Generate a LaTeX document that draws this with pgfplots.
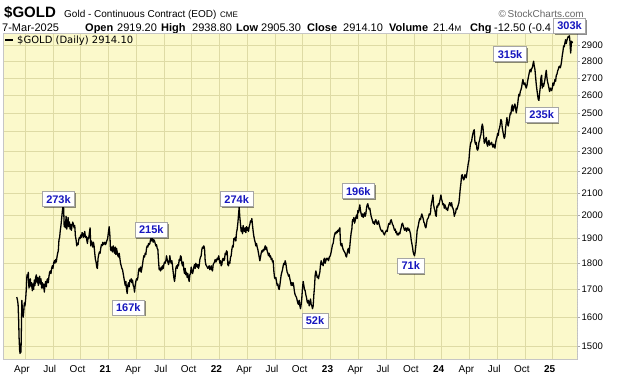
\documentclass[border=0pt]{standalone}
\usepackage{fontspec}
\setmainfont{Liberation Sans}
\newfontfamily\dejavu{DejaVu Sans}
\usepackage{pgfplots}
\pgfplotsset{compat=1.18}
\usetikzlibrary{shadows}
\definecolor{bgc}{RGB}{251,249,203}
\definecolor{gridc}{RGB}{222,219,165}
\definecolor{annblue}{RGB}{22,22,190}
\tikzset{ann/.style={draw=gray!70, fill=white, line width=0.6pt, text=annblue,
  font=\bfseries\fontsize{11}{12}\selectfont, inner xsep=4pt, inner ysep=3.5pt,
  drop shadow={shadow xshift=1.3pt, shadow yshift=-1.3pt, opacity=0.45, fill=black}},
  hdr/.style={anchor=base west, inner sep=0pt, font=\fontsize{11}{12}\selectfont},
  hdb/.style={anchor=base west, inner sep=0pt, font=\bfseries\fontsize{11}{12}\selectfont}}
\begin{document}
\begin{tikzpicture}
\useasboundingbox (0pt,0pt) rectangle (620pt,376pt);
% header line 1
\node[anchor=base west, inner sep=0pt, font=\bfseries\fontsize{15}{15}\selectfont] at (4pt,358.5pt) {\$GOLD};
\node[anchor=base west, inner sep=0pt, font=\fontsize{10}{11}\selectfont] at (64pt,358.5pt) {Gold - Continuous Contract (EOD)};
\node[anchor=base west, inner sep=0pt, font=\fontsize{8}{9}\selectfont] at (220pt,358.5pt) {CME};
\node[anchor=base east, inner sep=0pt, text=gray!80!black, font=\fontsize{10}{11}\selectfont] at (584pt,358.5pt) {\textcopyright\,StockCharts.com};
% header line 2
\node[hdr] at (2pt,344.5pt) {7-Mar-2025};
\node[hdb] at (85pt,344.5pt) {Open};
\node[hdr] at (117pt,344.5pt) {2919.20};
\node[hdb] at (161pt,344.5pt) {High};
\node[hdr] at (192pt,344.5pt) {2938.80};
\node[hdb] at (236pt,344.5pt) {Low};
\node[hdr] at (261pt,344.5pt) {2905.30};
\node[hdb] at (307pt,344.5pt) {Close};
\node[hdr] at (343pt,344.5pt) {2914.10};
\node[hdb] at (389pt,344.5pt) {Volume};
\node[hdr] at (433pt,344.5pt) {21.4{\fontsize{8}{9}\selectfont M}};
\node[hdb] at (470pt,344.5pt) {Chg};
\node[hdr] at (494pt,344.5pt) {-12.50 (-0.4};
\begin{axis}[
 at={(3pt,16.5pt)}, anchor=south west, scale only axis,
 width=574pt, height=326pt,
 xmin=2020.0522, xmax=2025.2187,
 ymode=log, ymin=1458.6, ymax=2975,
 axis background/.style={fill=bgc},
 axis line style={draw=gray!45, line width=0.4pt},
 grid=major, major grid style={draw=gridc, line width=0.5pt},
 xtick={2020.25,2020.5,2020.75,2021,2021.25,2021.5,2021.75,2022,2022.25,2022.5,2022.75,2023,2023.25,2023.5,2023.75,2024,2024.25,2024.5,2024.75,2025},
 xticklabels={Apr,Jul,Oct,\textbf{21},Apr,Jul,Oct,\textbf{22},Apr,Jul,Oct,\textbf{23},Apr,Jul,Oct,\textbf{24},Apr,Jul,Oct,\textbf{25}},
 ytick={1500,1600,1700,1800,1900,2000,2100,2200,2300,2400,2500,2600,2700,2800,2900},
 yticklabels={1500,1600,1700,1800,1900,2000,2100,2200,2300,2400,2500,2600,2700,2800,2900},
 ytick pos=right, yticklabel pos=right, xtick pos=bottom,
 xtick style={draw=none},
 ytick style={draw=gray!70, line width=0.4pt},
 major tick length=3pt, tick align=outside,
 yminorticks=false, xminorticks=false,
 xticklabel style={font=\fontsize{10}{11}\selectfont, xshift=-3pt, inner sep=1pt, yshift=-2pt},
 yticklabel style={font=\fontsize{9.5}{10}\selectfont, inner sep=1.5pt},
]
\addplot[black, line width=1.3pt, line join=round] coordinates {
(2020.176,1672)(2020.182,1662)(2020.188,1645)(2020.193,1590)(2020.197,1530)(2020.202,1488)(2020.206,1478)(2020.210,1485)(2020.214,1482)(2020.218,1565)(2020.222,1660)(2020.226,1630)(2020.230,1625)(2020.234,1600)(2020.239,1620)(2020.244,1650)(2020.250,1640)(2020.256,1665)(2020.262,1700)(2020.268,1755)(2020.274,1745)(2020.280,1765)(2020.286,1705)(2020.292,1720)(2020.298,1740)(2020.304,1710)(2020.310,1725)(2020.316,1695)(2020.322,1720)(2020.328,1700)(2020.334,1735)(2020.340,1715)(2020.346,1745)(2020.352,1755)(2020.358,1725)(2020.364,1745)(2020.370,1715)(2020.376,1735)(2020.382,1750)(2020.388,1720)(2020.394,1740)(2020.400,1705)(2020.406,1725)(2020.412,1705)(2020.418,1720)(2020.424,1690)(2020.430,1715)(2020.436,1730)(2020.442,1710)(2020.448,1735)(2020.454,1740)(2020.460,1725)(2020.466,1750)(2020.472,1765)(2020.478,1770)(2020.484,1760)(2020.490,1780)(2020.496,1790)(2020.502,1780)(2020.508,1800)(2020.514,1810)(2020.520,1800)(2020.526,1815)(2020.532,1805)(2020.538,1825)(2020.544,1840)(2020.550,1850)(2020.556,1895)(2020.562,1905)(2020.568,1935)(2020.574,1955)(2020.580,1985)(2020.586,2015)(2020.592,2040)(2020.598,2030)(2020.603,1950)(2020.608,1970)(2020.614,1945)(2020.620,1995)(2020.626,1940)(2020.632,1960)(2020.638,1990)(2020.644,1950)(2020.650,1970)(2020.656,1940)(2020.662,1960)(2020.668,1935)(2020.674,1955)(2020.680,1970)(2020.686,1960)(2020.692,1945)(2020.698,1955)(2020.704,1910)(2020.710,1895)(2020.716,1870)(2020.722,1880)(2020.728,1875)(2020.734,1895)(2020.740,1905)(2020.746,1900)(2020.752,1915)(2020.758,1905)(2020.764,1925)(2020.770,1920)(2020.776,1905)(2020.782,1915)(2020.788,1930)(2020.794,1905)(2020.800,1910)(2020.806,1895)(2020.812,1880)(2020.818,1905)(2020.824,1900)(2020.830,1925)(2020.836,1945)(2020.842,1870)(2020.848,1890)(2020.854,1880)(2020.860,1865)(2020.866,1885)(2020.872,1870)(2020.878,1840)(2020.884,1815)(2020.890,1805)(2020.896,1785)(2020.902,1780)(2020.908,1820)(2020.914,1835)(2020.920,1845)(2020.926,1840)(2020.932,1860)(2020.938,1875)(2020.944,1870)(2020.950,1885)(2020.956,1875)(2020.962,1880)(2020.968,1885)(2020.974,1875)(2020.980,1880)(2020.986,1890)(2020.994,1900)
(2021.002,1930)(2021.008,1950)(2021.014,1915)(2021.020,1855)(2021.026,1850)(2021.032,1865)(2021.038,1845)(2021.044,1870)(2021.050,1855)(2021.056,1840)(2021.062,1865)(2021.068,1835)(2021.074,1860)(2021.080,1845)(2021.086,1830)(2021.092,1825)(2021.098,1840)(2021.104,1820)(2021.110,1800)(2021.116,1790)(2021.122,1780)(2021.128,1775)(2021.134,1760)(2021.140,1745)(2021.146,1730)(2021.152,1715)(2021.158,1730)(2021.164,1700)(2021.170,1685)(2021.176,1715)(2021.182,1725)(2021.188,1710)(2021.194,1735)(2021.200,1730)(2021.206,1740)(2021.212,1725)(2021.218,1735)(2021.224,1715)(2021.230,1710)(2021.236,1690)(2021.242,1715)(2021.248,1730)(2021.254,1740)(2021.260,1735)(2021.266,1745)(2021.272,1770)(2021.278,1780)(2021.284,1770)(2021.290,1785)(2021.296,1765)(2021.302,1780)(2021.308,1795)(2021.314,1815)(2021.320,1830)(2021.326,1825)(2021.332,1840)(2021.338,1835)(2021.344,1860)(2021.350,1870)(2021.356,1865)(2021.362,1880)(2021.368,1875)(2021.374,1880)(2021.380,1895)(2021.386,1905)(2021.392,1890)(2021.398,1900)(2021.404,1885)(2021.410,1895)(2021.416,1890)(2021.422,1880)(2021.428,1870)(2021.434,1875)(2021.440,1860)(2021.446,1855)(2021.452,1810)(2021.458,1775)(2021.464,1780)(2021.470,1770)(2021.476,1785)(2021.482,1775)(2021.488,1790)(2021.494,1780)(2021.500,1795)(2021.506,1805)(2021.512,1800)(2021.518,1810)(2021.524,1830)(2021.530,1815)(2021.536,1805)(2021.542,1795)(2021.548,1805)(2021.554,1830)(2021.560,1810)(2021.566,1800)(2021.572,1810)(2021.578,1790)(2021.584,1765)(2021.590,1745)(2021.596,1730)(2021.602,1750)(2021.608,1780)(2021.614,1790)(2021.620,1780)(2021.626,1795)(2021.632,1790)(2021.638,1815)(2021.644,1810)(2021.650,1830)(2021.656,1825)(2021.662,1800)(2021.668,1790)(2021.674,1805)(2021.680,1775)(2021.686,1760)(2021.692,1780)(2021.698,1755)(2021.704,1765)(2021.710,1745)(2021.716,1760)(2021.722,1740)(2021.728,1730)(2021.734,1755)(2021.740,1760)(2021.746,1785)(2021.752,1770)(2021.758,1760)(2021.764,1770)(2021.770,1785)(2021.776,1795)(2021.782,1780)(2021.788,1800)(2021.794,1790)(2021.800,1785)(2021.806,1795)(2021.812,1780)(2021.818,1790)(2021.824,1815)(2021.830,1825)(2021.836,1830)(2021.842,1855)(2021.848,1865)(2021.854,1860)(2021.860,1870)(2021.866,1860)(2021.872,1810)(2021.878,1795)(2021.884,1790)(2021.890,1785)(2021.896,1780)(2021.902,1785)(2021.908,1790)(2021.914,1775)(2021.920,1780)(2021.926,1790)(2021.932,1775)(2021.938,1770)(2021.944,1795)(2021.950,1800)(2021.956,1805)(2021.962,1815)(2021.968,1805)(2021.974,1810)(2021.980,1820)(2021.986,1815)(2021.994,1830)
(2022.004,1800)(2022.010,1810)(2022.016,1790)(2022.022,1795)(2022.028,1815)(2022.034,1820)(2022.040,1810)(2022.046,1815)(2022.052,1840)(2022.058,1835)(2022.064,1850)(2022.070,1845)(2022.076,1795)(2022.082,1790)(2022.088,1805)(2022.094,1800)(2022.100,1825)(2022.106,1830)(2022.112,1855)(2022.118,1870)(2022.124,1865)(2022.130,1900)(2022.136,1895)(2022.142,1905)(2022.148,1890)(2022.154,1925)(2022.160,1940)(2022.166,1965)(2022.172,2000)(2022.178,2035)(2022.184,1990)(2022.190,1960)(2022.196,1930)(2022.202,1945)(2022.208,1920)(2022.214,1955)(2022.220,1935)(2022.226,1930)(2022.232,1945)(2022.238,1925)(2022.244,1950)(2022.250,1935)(2022.256,1945)(2022.262,1930)(2022.268,1950)(2022.274,1960)(2022.280,1975)(2022.286,1970)(2022.292,1985)(2022.298,1955)(2022.304,1930)(2022.310,1910)(2022.316,1895)(2022.322,1885)(2022.328,1870)(2022.334,1880)(2022.340,1865)(2022.346,1855)(2022.352,1840)(2022.358,1825)(2022.364,1810)(2022.370,1825)(2022.376,1840)(2022.382,1850)(2022.388,1845)(2022.394,1855)(2022.400,1850)(2022.406,1860)(2022.412,1870)(2022.418,1855)(2022.424,1865)(2022.430,1850)(2022.436,1840)(2022.442,1830)(2022.448,1840)(2022.454,1825)(2022.460,1830)(2022.466,1815)(2022.472,1820)(2022.478,1805)(2022.484,1810)(2022.490,1770)(2022.496,1745)(2022.502,1740)(2022.508,1745)(2022.514,1730)(2022.520,1715)(2022.526,1720)(2022.532,1705)(2022.538,1700)(2022.544,1715)(2022.550,1735)(2022.556,1755)(2022.562,1765)(2022.568,1775)(2022.574,1790)(2022.580,1800)(2022.586,1795)(2022.592,1810)(2022.598,1800)(2022.604,1780)(2022.610,1765)(2022.616,1760)(2022.622,1750)(2022.628,1755)(2022.634,1740)(2022.640,1730)(2022.646,1715)(2022.652,1725)(2022.658,1715)(2022.664,1725)(2022.670,1710)(2022.676,1690)(2022.682,1680)(2022.688,1675)(2022.694,1670)(2022.700,1660)(2022.706,1650)(2022.712,1645)(2022.718,1660)(2022.724,1640)(2022.730,1630)(2022.736,1645)(2022.742,1670)(2022.748,1705)(2022.754,1730)(2022.760,1715)(2022.766,1700)(2022.772,1695)(2022.778,1680)(2022.784,1670)(2022.790,1655)(2022.796,1650)(2022.802,1660)(2022.808,1640)(2022.814,1650)(2022.820,1665)(2022.826,1645)(2022.832,1640)(2022.838,1630)(2022.844,1640)(2022.850,1680)(2022.856,1710)(2022.862,1755)(2022.868,1770)(2022.874,1760)(2022.880,1745)(2022.886,1750)(2022.892,1740)(2022.898,1755)(2022.904,1765)(2022.910,1795)(2022.916,1810)(2022.922,1795)(2022.928,1800)(2022.934,1790)(2022.940,1815)(2022.946,1820)(2022.952,1800)(2022.958,1810)(2022.964,1820)(2022.970,1815)(2022.976,1820)(2022.982,1810)(2022.990,1825)(2022.998,1830)
(2023.006,1845)(2023.012,1860)(2023.018,1875)(2023.024,1880)(2023.030,1900)(2023.036,1915)(2023.042,1925)(2023.048,1920)(2023.054,1930)(2023.060,1925)(2023.066,1935)(2023.072,1930)(2023.078,1940)(2023.084,1945)(2023.090,1880)(2023.096,1870)(2023.102,1880)(2023.108,1865)(2023.114,1855)(2023.120,1850)(2023.126,1845)(2023.132,1840)(2023.138,1830)(2023.144,1825)(2023.150,1840)(2023.156,1855)(2023.162,1860)(2023.168,1840)(2023.174,1870)(2023.180,1900)(2023.186,1925)(2023.192,1940)(2023.198,1980)(2023.204,1975)(2023.210,1990)(2023.216,1965)(2023.222,1975)(2023.228,1990)(2023.234,2000)(2023.240,1985)(2023.246,2020)(2023.252,2010)(2023.258,2030)(2023.264,2045)(2023.270,2020)(2023.276,2005)(2023.282,1995)(2023.288,2005)(2023.294,1990)(2023.300,2000)(2023.306,2010)(2023.312,1995)(2023.318,2005)(2023.324,2030)(2023.330,2045)(2023.336,2050)(2023.342,2035)(2023.348,2025)(2023.354,2030)(2023.360,2010)(2023.366,1995)(2023.372,1985)(2023.378,1975)(2023.384,1965)(2023.390,1970)(2023.396,1960)(2023.402,1975)(2023.408,1980)(2023.414,1970)(2023.420,1960)(2023.426,1965)(2023.432,1975)(2023.438,1960)(2023.444,1950)(2023.450,1940)(2023.456,1935)(2023.462,1930)(2023.468,1935)(2023.474,1925)(2023.480,1920)(2023.486,1915)(2023.492,1925)(2023.498,1930)(2023.504,1935)(2023.510,1930)(2023.516,1945)(2023.522,1960)(2023.528,1965)(2023.534,1960)(2023.540,1975)(2023.546,1980)(2023.552,1970)(2023.558,1960)(2023.564,1955)(2023.570,1945)(2023.576,1935)(2023.582,1940)(2023.588,1925)(2023.594,1930)(2023.600,1915)(2023.606,1920)(2023.612,1915)(2023.618,1925)(2023.624,1920)(2023.630,1935)(2023.636,1945)(2023.642,1960)(2023.648,1965)(2023.654,1955)(2023.660,1945)(2023.666,1935)(2023.672,1940)(2023.678,1945)(2023.684,1930)(2023.690,1940)(2023.696,1945)(2023.702,1935)(2023.708,1940)(2023.714,1930)(2023.720,1920)(2023.726,1895)(2023.732,1880)(2023.738,1865)(2023.744,1845)(2023.750,1835)(2023.756,1830)(2023.762,1845)(2023.768,1870)(2023.774,1900)(2023.780,1935)(2023.786,1945)(2023.792,1960)(2023.798,1975)(2023.804,1985)(2023.810,1980)(2023.816,1995)(2023.822,2005)(2023.828,1995)(2023.834,1985)(2023.840,1970)(2023.846,1965)(2023.852,1950)(2023.858,1945)(2023.864,1960)(2023.870,1980)(2023.876,1985)(2023.882,1990)(2023.888,2005)(2023.894,2000)(2023.900,2010)(2023.906,2045)(2023.912,2060)(2023.918,2075)(2023.922,2090)(2023.928,2045)(2023.934,2030)(2023.940,2020)(2023.946,2000)(2023.952,1995)(2023.958,2040)(2023.964,2035)(2023.970,2050)(2023.976,2045)(2023.982,2060)(2023.988,2075)(2023.994,2090)
(2024.000,2070)(2024.006,2060)(2024.012,2045)(2024.018,2050)(2024.024,2030)(2024.030,2045)(2024.036,2035)(2024.042,2025)(2024.048,2030)(2024.054,2020)(2024.060,2035)(2024.066,2045)(2024.072,2055)(2024.078,2050)(2024.084,2040)(2024.090,2055)(2024.096,2035)(2024.102,2030)(2024.108,2020)(2024.114,1995)(2024.120,2005)(2024.126,2010)(2024.132,2030)(2024.138,2025)(2024.144,2035)(2024.150,2045)(2024.156,2055)(2024.162,2085)(2024.168,2120)(2024.174,2145)(2024.180,2180)(2024.186,2185)(2024.192,2170)(2024.198,2160)(2024.204,2165)(2024.210,2185)(2024.216,2180)(2024.222,2170)(2024.228,2195)(2024.234,2215)(2024.240,2240)(2024.246,2255)(2024.252,2300)(2024.258,2330)(2024.264,2345)(2024.270,2350)(2024.276,2375)(2024.282,2390)(2024.288,2405)(2024.294,2410)(2024.300,2345)(2024.306,2335)(2024.312,2345)(2024.318,2310)(2024.324,2305)(2024.330,2315)(2024.336,2345)(2024.342,2355)(2024.348,2375)(2024.354,2385)(2024.360,2420)(2024.366,2440)(2024.372,2425)(2024.378,2380)(2024.384,2340)(2024.390,2345)(2024.396,2360)(2024.402,2370)(2024.408,2335)(2024.414,2325)(2024.420,2345)(2024.426,2355)(2024.432,2330)(2024.438,2340)(2024.444,2335)(2024.450,2345)(2024.456,2330)(2024.462,2320)(2024.468,2335)(2024.474,2325)(2024.480,2315)(2024.486,2340)(2024.492,2360)(2024.498,2370)(2024.504,2390)(2024.510,2380)(2024.516,2410)(2024.522,2420)(2024.528,2440)(2024.534,2465)(2024.540,2455)(2024.546,2420)(2024.552,2400)(2024.558,2380)(2024.564,2365)(2024.570,2375)(2024.576,2420)(2024.582,2445)(2024.588,2475)(2024.594,2440)(2024.600,2430)(2024.606,2450)(2024.612,2475)(2024.618,2500)(2024.624,2495)(2024.630,2530)(2024.636,2545)(2024.642,2510)(2024.648,2525)(2024.654,2540)(2024.660,2550)(2024.666,2525)(2024.672,2500)(2024.678,2525)(2024.684,2545)(2024.690,2580)(2024.696,2605)(2024.702,2595)(2024.708,2620)(2024.714,2630)(2024.720,2645)(2024.726,2670)(2024.732,2690)(2024.738,2665)(2024.744,2660)(2024.750,2670)(2024.756,2650)(2024.762,2640)(2024.768,2655)(2024.774,2680)(2024.780,2700)(2024.786,2720)(2024.792,2740)(2024.798,2750)(2024.804,2735)(2024.810,2755)(2024.816,2760)(2024.822,2780)(2024.828,2800)(2024.834,2770)(2024.840,2750)(2024.846,2705)(2024.852,2660)(2024.858,2630)(2024.864,2600)(2024.870,2575)(2024.876,2570)(2024.882,2610)(2024.888,2645)(2024.894,2700)(2024.900,2715)(2024.906,2640)(2024.912,2665)(2024.918,2650)(2024.924,2670)(2024.930,2690)(2024.936,2720)(2024.942,2745)(2024.948,2700)(2024.954,2675)(2024.960,2660)(2024.966,2640)(2024.972,2620)(2024.978,2640)(2024.984,2635)(2024.990,2625)(2024.996,2640)
(2025.002,2670)(2025.008,2655)(2025.014,2670)(2025.020,2690)(2025.026,2680)(2025.032,2715)(2025.038,2720)(2025.044,2740)(2025.050,2750)(2025.056,2765)(2025.062,2770)(2025.068,2760)(2025.074,2775)(2025.080,2800)(2025.086,2835)(2025.092,2860)(2025.098,2895)(2025.104,2890)(2025.110,2915)(2025.116,2935)(2025.122,2910)(2025.128,2930)(2025.134,2945)(2025.140,2955)(2025.146,2950)(2025.150,2960)(2025.154,2935)(2025.158,2885)(2025.162,2850)(2025.166,2895)(2025.170,2925)(2025.174,2920)(2025.178,2914)
};
\draw[gray!70, dotted, line width=0.6pt] (rel axis cs:1,0) -- (rel axis cs:1,1);
\end{axis}
% legend
\draw[black, line width=1.4pt] (5pt,336pt) -- (13pt,336pt);
\node[anchor=base west, inner sep=0pt, font=\dejavu\fontsize{10}{11}\selectfont] at (17pt,332.5pt) {\$GOLD (Daily) 2914.10};
% annotations
\node[ann] at (58.5pt,176.8pt) {273k};
\node[ann] at (151.3pt,146pt) {215k};
\node[ann] at (128.3pt,68.5pt) {167k};
\node[ann] at (236.7pt,176.8pt) {274k};
\node[ann] at (358.3pt,184.8pt) {196k};
\node[ann] at (315pt,55.5pt) {52k};
\node[ann] at (410.8pt,110.2pt) {71k};
\node[ann] at (510pt,321.8pt) {315k};
\node[ann] at (541.7pt,261pt) {235k};
\node[ann] at (569.5pt,350pt) {303k};
\end{tikzpicture}
\end{document}
